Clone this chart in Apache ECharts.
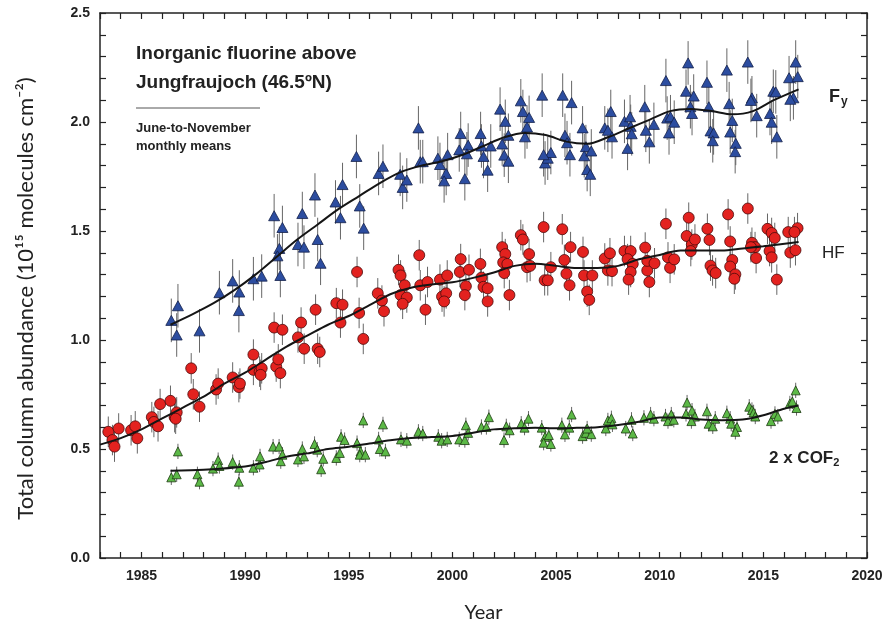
<!DOCTYPE html>
<html>
<head>
<meta charset="utf-8">
<script src="https://cdn.jsdelivr.net/npm/echarts@6/dist/echarts.min.js"></script>
<style>html,body{margin:0;padding:0;background:#fff}#c{width:886px;height:628px}</style>
</head>
<body>
<div id="c"></div>
<script>
// Monthly means [year, value]
const fyData = [
[1986.44,1.090],[1986.76,1.157],[1986.7,1.023],[1987.8,1.042],[1988.76,1.217],[1989.4,1.271],[1989.72,1.220],[1989.7,1.135],[1990.4,1.281],[1990.8,1.293],[1991.4,1.570],[1991.8,1.516],[1991.65,1.420],[1991.56,1.386],[1991.7,1.296],
[1992.55,1.438],[1992.76,1.580],[1992.84,1.426],[1993.37,1.665],[1993.5,1.461],[1993.64,1.352],[1994.36,1.633],[1994.6,1.561],[1994.7,1.713],[1995.37,1.842],[1995.53,1.615],[1995.72,1.513],[1996.44,1.764],[1996.65,1.797],[1997.48,1.760],[1997.6,1.700],[1997.8,1.734],[1998.36,1.973],[1998.45,1.818],[1998.57,1.818],[1999.3,1.834],[1999.4,1.805],[1999.77,1.850],[1999.7,1.764],[1999.6,1.730],[2000.4,1.947],[2000.33,1.872],[2000.76,1.894],[2000.7,1.854],[2000.6,1.740],
[2001.36,1.947],[2001.4,1.890],[2001.5,1.842],[2001.7,1.779],[2001.85,1.890],[2002.3,2.059],[2002.55,2.003],[2002.4,1.899],[2002.5,1.848],[2002.7,1.820],[2002.7,1.939],[2003.3,2.097],[2003.4,2.048],[2003.7,2.021],[2003.6,1.977],[2003.5,1.932],[2004.33,2.123],[2004.47,1.812],[2004.6,1.834],[2004.75,1.860],[2004.4,1.850],[2005.32,2.123],[2005.75,2.089],[2005.43,1.939],[2005.53,1.905],[2005.67,1.850],[2006.28,1.973],[2006.44,1.887],[2006.36,1.845],[2006.7,1.867],[2006.5,1.782],[2006.65,1.760],[2007.35,1.973],[2007.64,2.048],[2007.5,1.962],[2007.7,1.932],[2008.3,2.003],[2008.57,2.024],[2008.6,1.980],[2008.65,1.946],[2008.45,1.879],[2009.28,2.070],[2009.33,1.962],[2009.5,1.909],[2009.72,1.989],
[2010.3,2.190],[2010.36,2.018],[2010.52,2.024],[2010.45,1.950],[2010.7,1.999],[2011.37,2.271],[2011.27,2.141],[2011.64,2.119],[2011.48,2.070],[2011.56,2.039],[2012.28,2.182],[2012.37,2.070],[2012.45,1.959],[2012.6,1.950],[2012.56,1.914],[2013.24,2.238],[2013.35,2.084],[2013.5,2.007],[2013.4,1.954],[2013.67,1.902],[2013.64,1.864],[2014.25,2.275],[2014.45,2.111],[2014.4,2.099],[2014.68,2.029],[2015.48,2.141],[2015.6,2.138],[2015.32,2.039],[2015.4,1.999],[2015.65,1.932],[2016.24,2.203],[2016.56,2.275],[2016.66,2.208],[2016.45,2.111],[2016.3,2.104]
];
const hfData = [
[1983.4,0.579],[1983.9,0.594],[1983.6,0.541],[1983.7,0.511],[1984.5,0.586],[1984.7,0.604],[1984.8,0.549],[1985.5,0.646],[1985.6,0.624],[1985.8,0.604],[1985.9,0.706],[1986.4,0.721],[1986.6,0.646],[1986.7,0.668],[1986.65,0.639],[1987.4,0.870],[1987.5,0.751],[1987.8,0.694],[1988.6,0.773],[1988.7,0.800],[1989.4,0.828],[1989.7,0.784],[1989.75,0.800],[1990.4,0.933],[1990.4,0.863],[1990.7,0.855],[1990.8,0.870],[1990.75,0.840],[1991.4,1.057],[1991.8,1.047],[1991.5,0.878],[1991.6,0.911],[1991.7,0.848],
[1992.55,1.012],[1992.7,1.080],[1992.85,0.960],[1993.4,1.139],[1993.5,0.960],[1993.6,0.945],[1994.4,1.169],[1994.6,1.080],[1994.7,1.162],[1995.4,1.312],[1995.5,1.124],[1995.7,1.005],[1996.4,1.214],[1996.6,1.181],[1996.7,1.132],[1997.4,1.322],[1997.5,1.296],[1997.7,1.251],[1997.5,1.206],[1997.8,1.195],[1997.6,1.166],[1998.4,1.389],[1998.45,1.251],[1998.8,1.266],[1998.7,1.139],[1999.4,1.277],[1999.75,1.296],[1999.5,1.199],[1999.7,1.214],[1999.6,1.177],[2000.4,1.371],[2000.36,1.312],[2000.8,1.322],[2000.65,1.247],[2000.6,1.206],
[2001.35,1.349],[2001.4,1.286],[2001.5,1.244],[2001.7,1.237],[2001.7,1.177],[2002.4,1.426],[2002.55,1.394],[2002.45,1.356],[2002.65,1.349],[2002.5,1.307],[2002.75,1.206],[2003.3,1.481],[2003.4,1.461],[2003.7,1.394],[2003.6,1.334],[2003.75,1.340],[2004.4,1.518],[2004.45,1.274],[2004.6,1.274],[2004.75,1.334],[2005.3,1.508],[2005.4,1.367],[2005.5,1.304],[2005.65,1.251],[2005.7,1.426],[2006.3,1.404],[2006.35,1.296],[2006.5,1.222],[2006.6,1.184],[2006.75,1.296],[2007.35,1.374],[2007.6,1.398],[2007.5,1.319],[2007.7,1.316],[2008.3,1.408],[2008.6,1.408],[2008.45,1.371],[2008.7,1.349],[2008.6,1.312],[2008.5,1.277],[2009.3,1.424],[2009.4,1.319],[2009.5,1.266],[2009.4,1.363],[2009.75,1.352],
[2010.3,1.533],[2010.4,1.379],[2010.5,1.331],[2010.7,1.370],[2011.4,1.561],[2011.3,1.477],[2011.55,1.438],[2011.7,1.461],[2011.5,1.408],[2012.3,1.510],[2012.4,1.459],[2012.45,1.341],[2012.55,1.319],[2012.7,1.307],[2013.3,1.576],[2013.4,1.452],[2013.5,1.367],[2013.4,1.337],[2013.65,1.301],[2013.6,1.281],[2014.25,1.603],[2014.45,1.446],[2014.6,1.426],[2014.4,1.426],[2014.65,1.376],[2015.2,1.510],[2015.4,1.491],[2015.55,1.468],[2015.3,1.408],[2015.4,1.379],[2015.65,1.277],[2016.2,1.495],[2016.65,1.513],[2016.5,1.495],[2016.3,1.401],[2016.55,1.412]
];
const cof2Data = [
[1986.44,0.370],[1986.7,0.384],[1986.76,0.489],[1987.7,0.384],[1987.8,0.350],[1988.45,0.410],[1988.7,0.449],[1988.76,0.422],[1989.4,0.440],[1989.72,0.414],[1989.7,0.350],[1990.4,0.414],[1990.7,0.429],[1990.72,0.466],[1991.35,0.511],[1991.64,0.511],[1991.72,0.444],[1991.8,0.474],
[1992.55,0.452],[1992.76,0.500],[1992.84,0.466],[1993.35,0.523],[1993.48,0.497],[1993.67,0.407],[1993.77,0.455],[1994.4,0.459],[1994.57,0.482],[1994.63,0.556],[1994.8,0.541],[1995.4,0.527],[1995.57,0.489],[1995.7,0.631],[1995.53,0.474],[1995.8,0.474],[1996.44,0.544],[1996.5,0.500],[1996.65,0.613],[1996.77,0.489],[1997.52,0.544],[1997.8,0.538],[1998.36,0.579],[1998.57,0.571],[1999.32,0.556],[1999.48,0.538],[1999.75,0.544],[2000.33,0.544],[2000.65,0.609],[2000.6,0.541],[2000.76,0.574],
[2001.4,0.601],[2001.64,0.601],[2001.76,0.646],[2002.49,0.541],[2002.6,0.604],[2002.76,0.586],[2003.32,0.616],[2003.48,0.598],[2003.67,0.639],[2004.31,0.598],[2004.47,0.556],[2004.65,0.564],[2004.4,0.529],[2004.75,0.523],[2005.28,0.609],[2005.43,0.567],[2005.64,0.598],[2005.75,0.658],[2006.28,0.559],[2006.44,0.574],[2006.7,0.568],[2006.5,0.594],[2007.4,0.594],[2007.5,0.631],[2007.67,0.641],[2007.72,0.613],[2008.36,0.594],[2008.64,0.634],[2008.7,0.571],[2009.24,0.643],[2009.56,0.658],[2009.72,0.639],
[2010.28,0.649],[2010.4,0.628],[2010.56,0.658],[2010.68,0.634],[2011.32,0.713],[2011.27,0.661],[2011.56,0.676],[2011.7,0.649],[2011.53,0.628],[2012.28,0.673],[2012.36,0.616],[2012.56,0.604],[2012.68,0.639],[2013.24,0.664],[2013.4,0.639],[2013.45,0.616],[2013.73,0.601],[2013.65,0.579],[2014.32,0.694],[2014.45,0.679],[2014.53,0.668],[2014.61,0.649],[2015.37,0.628],[2015.56,0.661],[2015.7,0.649],[2016.28,0.709],[2016.4,0.718],[2016.56,0.769],[2016.6,0.688]
];
// Smoothed fits [year, value]
const fyFit = [[1986.4,1.07],[1987.5,1.12],[1988.5,1.17],[1989.5,1.23],[1990.5,1.30],[1991.5,1.38],[1992.5,1.46],[1993.5,1.53],[1994.5,1.60],[1995.5,1.66],[1996.5,1.72],[1997.5,1.77],[1998.5,1.80],[1999.5,1.82],[2000.5,1.85],[2001.5,1.89],[2002.5,1.93],[2003.5,1.95],[2004.5,1.94],[2005.5,1.91],[2006.5,1.90],[2007.5,1.93],[2008.5,1.97],[2009.5,2.01],[2010.5,2.05],[2011.5,2.06],[2012.5,2.05],[2013.5,2.035],[2014.5,2.05],[2015.5,2.10],[2016.7,2.15]];
const hfFit = [[1983.0,0.52],[1984,0.55],[1985,0.59],[1986,0.64],[1987,0.69],[1988,0.74],[1989,0.80],[1990,0.85],[1991,0.91],[1992,0.97],[1993,1.02],[1994,1.07],[1995,1.11],[1996,1.16],[1997,1.21],[1998,1.24],[1999,1.255],[2000,1.265],[2001,1.285],[2002,1.31],[2003,1.34],[2004,1.35],[2005,1.34],[2006,1.33],[2007,1.33],[2008,1.34],[2009,1.37],[2010,1.39],[2011,1.41],[2012,1.41],[2013,1.41],[2014,1.42],[2015,1.43],[2016.7,1.45]];
const cof2Fit = [[1986.4,0.40],[1988,0.405],[1990,0.42],[1991,0.44],[1992,0.465],[1993,0.48],[1994,0.50],[1995,0.51],[1996,0.525],[1997,0.54],[1998,0.55],[1999,0.555],[2000,0.56],[2001,0.575],[2002,0.59],[2003,0.595],[2004,0.598],[2005,0.595],[2006,0.597],[2007,0.60],[2008,0.61],[2009,0.625],[2010,0.645],[2011,0.645],[2012,0.635],[2013,0.632],[2014,0.635],[2015,0.655],[2016,0.685],[2016.7,0.70]];
// typical half-length of the error bars
const fyErr = 0.1, hfErr = 0.07, cof2Err = 0.035;
const xMin = 1983, xMax = 2020, yMin = 0, yMax = 2.5;

const chart = echarts.init(document.getElementById('c'), null, {renderer: 'canvas'});
const tickFont = {fontFamily: 'Liberation Sans, Arial, sans-serif', fontWeight: 'bold', fontSize: 14, color: '#222'};
const axisLine = {show: true, onZero: false, lineStyle: {color: '#222', width: 1.5}};
const tick = {show: true, inside: true, length: 6, lineStyle: {color: '#222', width: 1.2}};

function errSeries(data, err) {
  return {
    type: 'custom', data: data, z: 1, silent: true,
    renderItem: function (params, api) {
      const x = api.value(0), y = api.value(1);
      const p1 = api.coord([x, y - err]);
      const p2 = api.coord([x, y + err]);
      return {type: 'line', shape: {x1: p1[0], y1: p1[1], x2: p2[0], y2: p2[1]}, style: {stroke: '#666', lineWidth: 1}};
    }
  };
}
function fitSeries(data) {
  return {type: 'line', data: data, smooth: 0.3, showSymbol: false, z: 4, silent: true,
    lineStyle: {color: '#151515', width: 2}};
}

chart.setOption({
  animation: false,
  backgroundColor: '#fff',
  grid: {left: 100, right: 19, top: 13, bottom: 57, containLabel: false},
  xAxis: [{
    type: 'value', min: xMin, max: xMax, interval: 1,
    axisLine: axisLine, axisTick: tick, splitLine: {show: false},
    axisLabel: Object.assign({margin: 11, formatter: v => (Math.round(v) % 5 === 0 ? String(Math.round(v)) : '')}, tickFont),
    name: 'Year', nameLocation: 'middle', nameGap: 45,
    nameTextStyle: {fontFamily: 'Lato, Open Sans, sans-serif', fontSize: 20, color: '#222'}
  }, {
    type: 'value', min: xMin, max: xMax, interval: 1, position: 'top',
    axisLine: axisLine, axisTick: tick, splitLine: {show: false}, axisLabel: {show: false}
  }],
  yAxis: [{
    type: 'value', min: yMin, max: yMax, interval: 0.1,
    axisLine: axisLine, axisTick: tick, splitLine: {show: false},
    axisLabel: Object.assign({margin: 10, formatter: v => (Math.abs(v * 2 - Math.round(v * 2)) < 1e-6 ? v.toFixed(1) : '')}, tickFont),
    name: 'Total column abundance (10¹⁵ molecules cm⁻²)', nameLocation: 'middle', nameGap: 63,
    nameTextStyle: {fontFamily: 'Lato, Open Sans, sans-serif', fontSize: 22, color: '#222', padding: [0, 26, 0, 0]}
  }, {
    type: 'value', min: yMin, max: yMax, interval: 0.1, position: 'right',
    axisLine: axisLine, axisTick: tick, splitLine: {show: false}, axisLabel: {show: false}
  }],
  series: [
    errSeries(fyData, fyErr), errSeries(hfData, hfErr), errSeries(cof2Data, cof2Err),
    {type: 'scatter', data: fyData, symbol: 'triangle', symbolSize: [11, 10], z: 3,
      itemStyle: {color: '#2c4da0', borderColor: '#14204a', borderWidth: 0.8, opacity: 1}},
    {type: 'scatter', data: hfData, symbol: 'circle', symbolSize: 11, z: 3,
      itemStyle: {color: '#e3221f', borderColor: '#4a0a0a', borderWidth: 0.8, opacity: 1}},
    {type: 'scatter', data: cof2Data, symbol: 'triangle', symbolSize: [9, 9], z: 3,
      itemStyle: {color: '#5cb947', borderColor: '#1d3a12', borderWidth: 0.8, opacity: 1}},
    fitSeries(fyFit), fitSeries(hfFit), fitSeries(cof2Fit)
  ],
  graphic: [
    {type: 'text', left: 136, top: 44, style: {text: 'Inorganic fluorine above', font: 'bold 19px Liberation Sans, Arial, sans-serif', fill: '#222'}},
    {type: 'text', left: 136, top: 73, style: {text: 'Jungfraujoch (46.5ºN)', font: 'bold 19px Liberation Sans, Arial, sans-serif', fill: '#222'}},
    {type: 'line', shape: {x1: 136, y1: 108, x2: 260, y2: 108}, style: {stroke: '#555', lineWidth: 1}},
    {type: 'text', left: 136, top: 122, style: {text: 'June-to-November', font: 'bold 13px Liberation Sans, Arial, sans-serif', fill: '#222'}},
    {type: 'text', left: 136, top: 140, style: {text: 'monthly means', font: 'bold 13px Liberation Sans, Arial, sans-serif', fill: '#222'}},
    {type: 'text', left: 829, top: 88, style: {text: '{b|F}{s|y}', rich: {
      b: {font: 'bold 18px Liberation Sans, Arial, sans-serif', fill: '#222'},
      s: {font: 'bold 12px Liberation Sans, Arial, sans-serif', fill: '#222', padding: [10, 0, 0, 1]}}}},
    {type: 'text', left: 822, top: 245, style: {text: 'HF', font: '17px Liberation Sans, Arial, sans-serif', fill: '#222'}},
    {type: 'text', left: 769, top: 450, style: {text: '{b|2 x COF}{s|2}', rich: {
      b: {font: 'bold 17px Liberation Sans, Arial, sans-serif', fill: '#222'},
      s: {font: 'bold 11px Liberation Sans, Arial, sans-serif', fill: '#222', padding: [9, 0, 0, 0]}}}}
  ]
});
</script>
</body>
</html>
